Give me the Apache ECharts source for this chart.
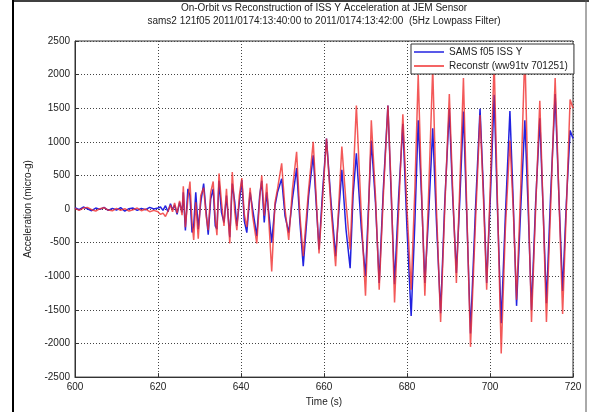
<!DOCTYPE html>
<html>
<head>
<meta charset="utf-8">
<title>ISS Y Acceleration at JEM Sensor</title>
<script src="https://cdn.jsdelivr.net/npm/echarts@6/dist/echarts.min.js"></script>
<style>
  html, body { margin: 0; padding: 0; background: #fff; }
  #main { width: 589px; height: 412px; }
</style>
</head>
<body>
<div id="main"></div>
<script>
// time stamps (s) shared by both traces
const time = [
  600, 601, 602, 603, 604, 605, 606, 607, 608, 609, 610, 611, 612, 613, 614, 615, 616, 617, 618, 619, 620,
  620.6, 621.2, 621.8, 622.4, 623, 623.5, 624, 624.6, 625.2, 625.8,
  626.1, 626.6, 627.2, 627.7, 628.2, 628.6, 629.1, 629.7, 630.3, 631,
  631.6, 632.1, 632.7, 633.3, 633.8, 634.2, 634.7, 635.3, 635.9, 636.5,
  637.3, 637.9, 638.5, 639, 639.6, 640.2, 640.8, 641.4, 642.2, 642.8,
  643.8, 644.5, 645, 645.6, 646.2, 647.4, 648.2, 648.8,
  649.8, 650.6, 651.5, 652.4, 653.4, 654.2, 655.0, 656.3, 657.4, 658.1,
  658.8, 659.7, 660.6, 661.7, 662.8, 663.5, 664.3, 665.3, 666.3, 667.0,
  667.8, 669.0, 670.0, 670.7, 671.4, 672.4, 673.3, 674.3, 675.4, 676.2,
  677.0, 678.0, 679.0, 680.0, 681.0, 681.9, 682.7, 683.5, 684.3, 685.2,
  686.2, 687.1, 688.1, 689.1, 690.2, 691.0, 691.9, 692.7, 693.6, 694.4,
  695.3, 696.5, 697.6, 698.4, 699.2, 700.1, 701.0, 701.8, 702.7, 703.7,
  704.8, 705.6, 706.4, 707.4, 708.4, 709.2, 710.0, 711.0, 712.0, 712.8,
  713.6, 714.6, 715.7, 716.6, 717.5, 718.4, 719.3, 720
];

// SAMS f05 ISS Y (micro-g)
const samsY = [
  20, -10, 30, 5, -25, 15, -5, 25, -20, 10, -15, 20, -30, 5, 15, -20, 10, -10, 25, 0, 15,
  30, -20, 50, -40, 80, -10, 60, -80, 100, -50,
  250, -320, 300, 200, -350, -250, 250, -300, 100, 380,
  -50, -380, 150, 300, -250, -300, 420, -50, -200, 200,
  -420, 380, 100, -250, 100, 430, -180, -350, 250, 0,
  -400, 200, 420, -200, 250, -500, 50, 250,
  450, -100, -350, 150, 610, -200, -850, 200, 800, 100,
  -600, 300, 1050, 100, -700, -100, 585, -300, -880, 200,
  830, -300, -1000, 0, 1020, 100, -1100, 300, 1540, 200,
  -1120, 200, 1270, -300, -1590, -200, 1320, 200, -1100, -100,
  1200, -200, -1550, 100, 1490, 200, -950, 100, 1450, -100,
  -1850, 0, 1490, 300, -1100, 200, 1700, 0, -1700, -100,
  1460, 100, -1440, 0, 1320, 0, -1500, 100, 1350, 0,
  -1400, 200, 1710, 200, -1220, 100, 1170, 1050
];

// Reconstr (ww91tv 701251) (micro-g)
const reconY = [
  10, -20, 15, 25, -10, -30, 5, 20, -15, -25, 10, -20, 5, -30, -10, 15, -25, 0, -40, -20, -40,
  -80, -60, -110, -30, 60, -40, 90, -60, 120, -90,
  340, -270, 150, 410, -200, -460, 100, -440, 200, 315,
  -100, -315, 250, 410, -150, -390, 530, 100, -250, 300,
  -510, 550, -50, -315, 200, 460, -80, -270, 315, -100,
  -510, 150, 500, -100, 380, -930, 100, 300,
  680, 0, -460, 300, 850, -100, -700, 300, 1000, 200,
  -660, 200, 1050, 0, -850, 0, 930, 100, -600, 400,
  1540, -100, -1290, -100, 1320, 200, -1200, 200, 1540, 300,
  -1390, 0, 1410, 0, -1200, 300, 2000, 300, -1290, 200,
  2100, 0, -1680, 0, 1710, 300, -1100, 300, 1950, 0,
  -2050, -200, 1400, 200, -1200, 400, 2200, 100, -2150, -300,
  1020, 0, -1350, 300, 2350, 200, -1680, 0, 1610, 0,
  -1680, 0, 1950, 200, -1560, 0, 1630, 1500
];

const seriesNames = ['SAMS f05 ISS Y', 'Reconstr (ww91tv 701251)'];

const font = 'Liberation Sans, Arial, sans-serif';
const txt = { fontSize: 10, color: '#222', fontFamily: font, fontWeight: 'normal' };

const chart = echarts.init(document.getElementById('main'));

const option = {
  animation: false,
  backgroundColor: '#fff',
  title: [
    { text: 'On-Orbit vs Reconstruction of ISS Y Acceleration at JEM Sensor',
      left: 324, top: 3, textAlign: 'center', padding: 0, textStyle: txt },
    { text: 'sams2 121f05 2011/0174:13:40:00 to 2011/0174:13:42:00  (5Hz Lowpass Filter)',
      left: 324, top: 16, textAlign: 'center', padding: 0, textStyle: txt }
  ],
  legend: {
    data: seriesNames,
    orient: 'vertical',
    left: 411, top: 44,
    icon: 'rect',
    backgroundColor: '#fff',
    borderColor: '#333', borderWidth: 1,
    padding: [3, 6, 3, 3],
    itemGap: 4, itemWidth: 30, itemHeight: 1.5,
    textStyle: txt
  },
  grid: {
    left: 75, right: 16, top: 41, bottom: 29,
    show: true, borderColor: '#333', borderWidth: 1, backgroundColor: '#fff'
  },
  xAxis: {
    type: 'value', min: 600, max: 720, interval: 20,
    name: 'Time (s)', nameLocation: 'middle', nameGap: 18, nameTextStyle: txt,
    axisLine: { show: true, onZero: false, lineStyle: { color: '#333' } },
    axisTick: { show: true, inside: true, length: 4, lineStyle: { color: '#333' } },
    axisLabel: Object.assign({ margin: 5, formatter: v => String(v) }, txt),
    splitLine: { show: true, lineStyle: { type: [1, 2], color: '#444' } }
  },
  yAxis: {
    type: 'value', min: -2500, max: 2500, interval: 500,
    name: 'Acceleration (micro-g)', nameLocation: 'middle', nameGap: 32, nameTextStyle: txt,
    axisLine: { show: true, onZero: false, lineStyle: { color: '#333' } },
    axisTick: { show: true, inside: true, length: 4, lineStyle: { color: '#333' } },
    axisLabel: Object.assign({ margin: 5, formatter: v => String(v) }, txt),
    splitLine: { show: true, lineStyle: { type: [1, 2], color: '#444' } }
  },
  series: [
    {
      name: seriesNames[0], type: 'line', symbol: 'none', showSymbol: false,
      color: '#2222e0',
      lineStyle: { width: 1.5, color: '#2222e0' },
      data: time.map((t, i) => [t, samsY[i]])
    },
    {
      name: seriesNames[1], type: 'line', symbol: 'none', showSymbol: false,
      color: '#f03030',
      lineStyle: { width: 1.5, color: '#f03030', opacity: 0.8 },
      data: time.map((t, i) => [t, reconY[i]])
    }
  ],
  graphic: [
    // figure window frame
    { type: 'line', shape: { x1: 13, y1: 0, x2: 13, y2: 412 }, style: { stroke: '#000', lineWidth: 2 } },
    { type: 'line', shape: { x1: 13, y1: 1, x2: 589, y2: 1 }, style: { stroke: '#000', lineWidth: 1.5 } },
    { type: 'line', shape: { x1: 586, y1: 0, x2: 586, y2: 412 }, style: { stroke: '#555', lineWidth: 1 } }
  ]
};

chart.setOption(option);
</script>
</body>
</html>
